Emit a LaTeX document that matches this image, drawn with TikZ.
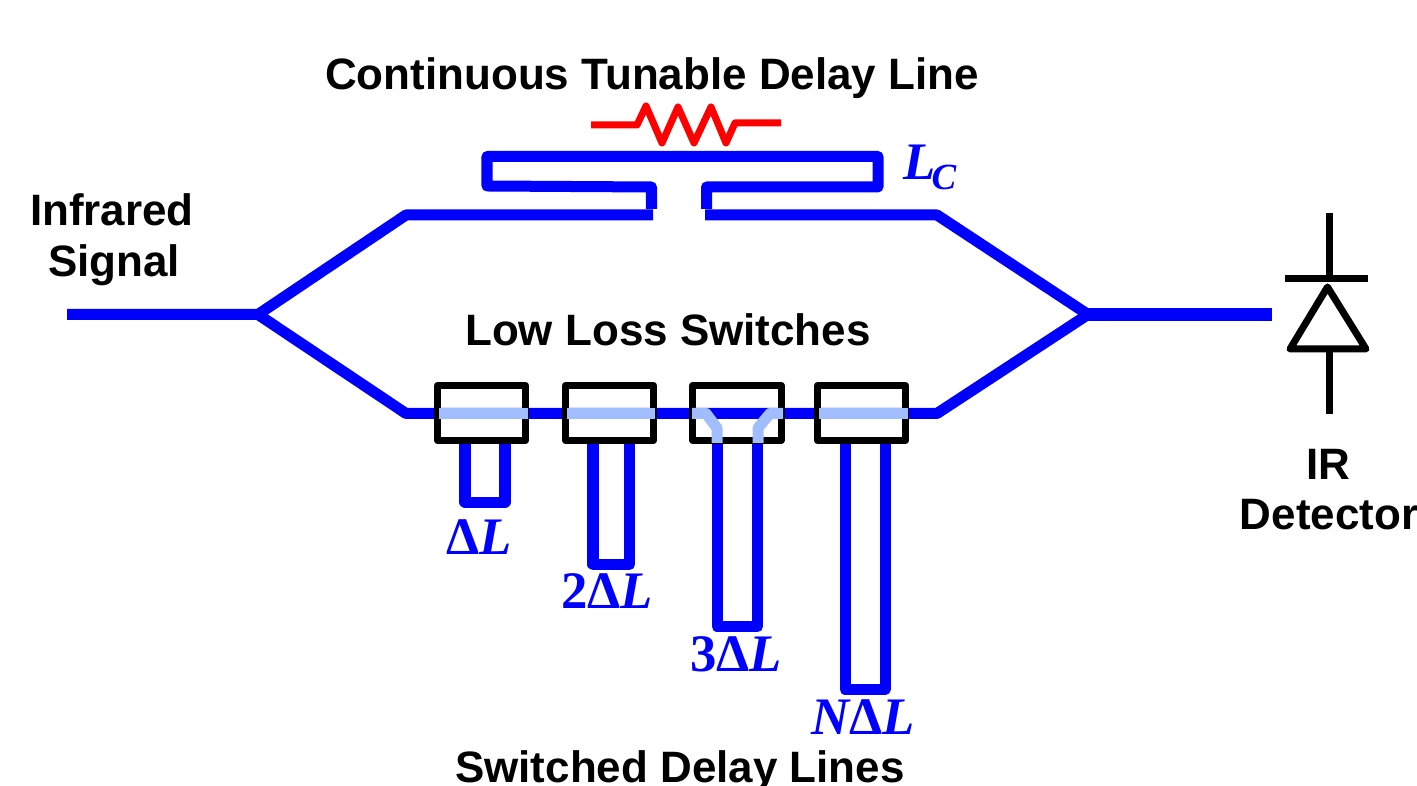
\documentclass[tikz,border=0pt]{standalone}
\usepackage{fontspec}
\setmainfont{Liberation Sans}
\newfontfamily\symfont{Liberation Serif}
\definecolor{waveblue}{RGB}{0,0,255}
\definecolor{paleblue}{RGB}{160,190,255}
\newcommand{\dL}{{\upshape\symbol{"0394}}L}
\tikzset{
	wave/.style={draw=waveblue, line width=.11cm, line join=round},
	passwave/.style={draw=paleblue, line width=.11cm, line join=round},
	switchbox/.style={draw, line width=.07cm, line join=round, minimum width=.88cm, minimum height=.55cm, inner sep=0pt},
	blacktext/.style={font=\fontsize{12.5}{14}\selectfont\bfseries, anchor=base, inner sep=0pt},
	bluetext/.style={font=\fontsize{15}{16}\symfont\bfseries\itshape, text=waveblue, anchor=base, inner sep=0pt},
}

\begin{document}
\begin{tikzpicture}[x=.01cm, y=-.01cm]
	\useasboundingbox (0,0) rectangle (1417,786);
	\coordinate (input) at (67,314.5);
	\coordinate (split) at (258,314.5);
	\coordinate (combine) at (1088,314.5);
	\coordinate (output) at (1272,314.5);
	% delay line on top
	\draw[wave] (input) -- (split) -- (406,215) -- (653,215);
	\draw[wave] (651.5,209) -- (651.5,187) -- (487,186) -- (487,156.5) -- (878,156.5) -- (878,187) -- (706.5,187) -- (706.5,209);
	\draw[wave] (705,215) -- (937,215) -- (combine);
	\draw[draw=waveblue, line width=.13cm] (combine) -- (output);
	% lower arm, then the switches over it
	\draw[wave] (split) -- (406,413.5) -- (937,413.5) -- (combine);
	\node[switchbox] (sw1) at (481.5,413) {};
	\node[switchbox] (sw2) at (609.5,413) {};
	\node[switchbox] (sw3) at (737,413) {};
	\node[switchbox] (sw4) at (861.5,413) {};
	\draw[wave] (sw1.south) ++(-16.5,0) -- ++(0,58) -- ++(40,0) -- ++(0,-58);
	\draw[wave] (sw2.south) ++(-16.5,0) -- ++(0,120.5) -- ++(36.5,0) -- ++(0,-120.5);
	\draw[wave] (sw3.south) ++(-20,0) -- ++(0,182.5) -- ++(40.5,0) -- ++(0,-182.5);
	\draw[wave] (sw4.south) ++(-16.5,0) -- ++(0,245.5) -- ++(40,0) -- ++(0,-245.5);
	\draw[passwave] (439,413.5) -- (528,413.5);
	\draw[passwave] (567,413.5) -- (655,413.5);
	\draw[passwave] (692,413.5) -- (706,413.5) -- (717,428) -- (717,443);
	\draw[passwave] (758,443) -- (758,428) -- (770,413.5) -- (783,413.5);
	\draw[passwave] (819,413.5) -- (908,413.5);
	% heater
	\draw[draw=red, line width=.07cm, line join=round] (591,125) -- (637,125) -- (646,106) -- (662,143) -- (678,107) -- (694,143) -- (711,107) -- (726,143) -- (735,123) -- (781,123);
	% detector
	\draw[line width=.07cm] (1329,213) -- (1329,279);
	\draw[line width=.07cm] (1285,279) -- (1368,279);
	\draw[line width=.07cm, line join=round] (1327.5,287) -- (1366,349) -- (1290,349) -- cycle;
	\draw[line width=.07cm] (1329,349) -- (1329,414);
	% labels
	\node[blacktext] (tunable) at (652,90) {Continuous Tunable Delay Line};
	\node[blacktext] (infrared) at (112,226) {Infrared};
	\node[blacktext] (signal) at (114,277) {Signal};
	\node[blacktext] (switches) at (668,346) {Low Loss Switches};
	\node[blacktext] (ir) at (1328,480) {IR};
	\node[blacktext] (detector) at (1329,530) {Detector};
	\node[blacktext] (switched) at (680,783) {Switched Delay Lines};
	\node[bluetext] (lc) at (920,180) {L};
	\node[bluetext, font=\fontsize{10.5}{12}\symfont\bfseries\itshape] (lcsub) at (944,190) {C};
	\node[bluetext] (dl1) at (479.5,555) {\dL};
	\node[bluetext] (dl2) at (607,609) {{\upshape 2}\dL};
	\node[bluetext] (dl3) at (736,672) {{\upshape 3}\dL};
	\node[bluetext] (dln) at (863.5,735) {N\dL};
\end{tikzpicture}
\end{document}
